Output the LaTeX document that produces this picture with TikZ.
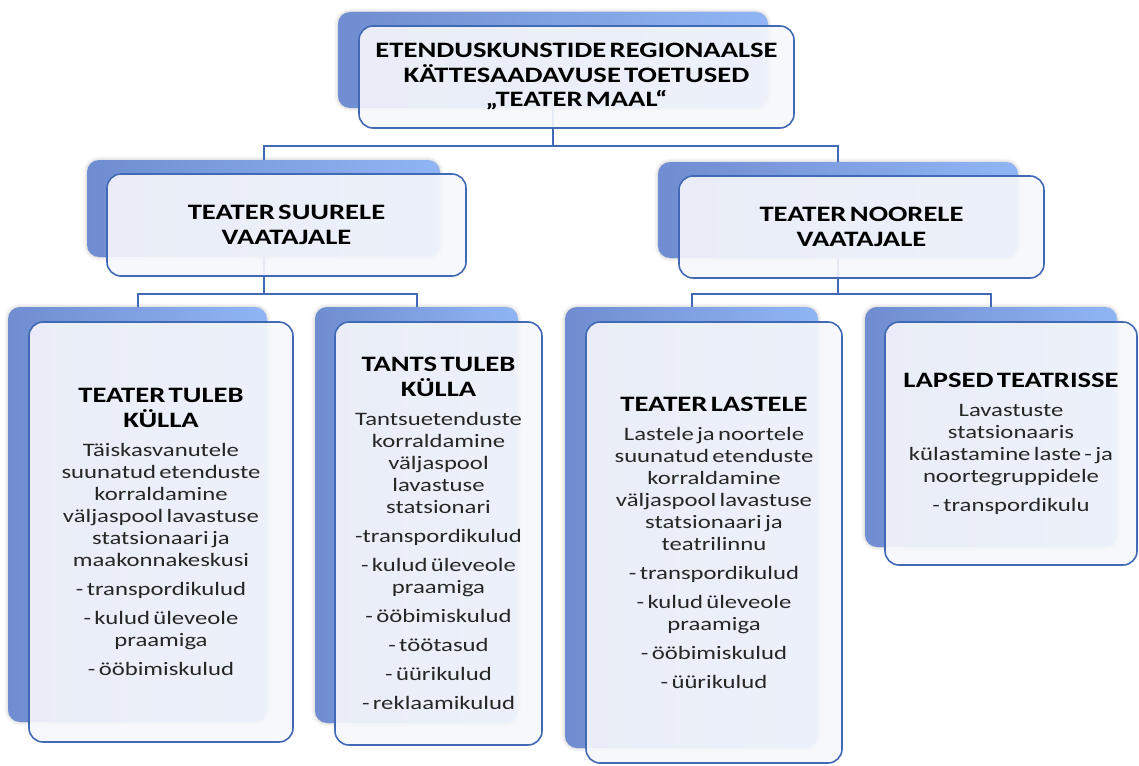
\documentclass[tikz,border=0pt]{standalone}
\usepackage{fontspec}
\usetikzlibrary{fit,shadows.blur}
\newfontfamily\cf{Carlito}[FakeStretch=1.3]
\definecolor{bluedark}{HTML}{6F8DD0}
\definecolor{bluelight}{HTML}{90B5F5}
\definecolor{edge}{HTML}{4169B4}
\definecolor{frontfill}{HTML}{F6F7FB}
\definecolor{txtc}{HTML}{262626}
\newcommand{\hd}[1]{{\fontsize{22}{24.5}\selectfont\bfseries\color{black}#1\par}}
\newcommand{\bd}[1]{{\fontsize{19}{22}\selectfont #1\par}}
\newcommand{\gap}{\vspace{7pt}}
\tikzset{
  backbox/.style={inner sep=0pt, rounded corners=12pt, left color=bluedark, right color=bluelight,
    blur shadow={shadow xshift=0pt, shadow yshift=0pt, shadow blur radius=4pt, shadow opacity=25}},
  frontbox/.style={inner sep=0pt, rounded corners=14pt, draw=edge, line width=1.6pt, fill=frontfill, fill opacity=0.91},
  conn/.style={draw=edge, line width=2pt},
  txt/.style={align=center, text width=320pt, text=txtc, font=\cf, inner sep=0pt}
}
\begin{document}
\begin{tikzpicture}[x=1pt,y=-1pt]
\useasboundingbox (0,0) rectangle (1139,765);
% back boxes
\node[backbox, fit={(338,12) (768,108)}] (topB) {};
\node[backbox, fit={(87,160) (440,257)}] (mlB) {};
\node[backbox, fit={(658,162) (1018,258)}] (mrB) {};
\node[backbox, fit={(8,307) (267,722)}] (b1B) {};
\node[backbox, fit={(315,307) (518,723)}] (b2B) {};
\node[backbox, fit={(565,307) (818,748)}] (b3B) {};
\node[backbox, fit={(865,307) (1117,547)}] (b4B) {};
% connectors
\coordinate (h1) at (0,146);
\coordinate (h2) at (0,294);
\draw[conn] (topB.south) -- (topB.south |- h1) -- (mlB.north |- h1) -- (mlB.north);
\draw[conn] (topB.south |- h1) -- (mrB.north |- h1) -- (mrB.north);
\draw[conn] (mlB.south) -- (mlB.south |- h2) -- (b1B.north |- h2) -- (b1B.north);
\draw[conn] (mlB.south |- h2) -- (b2B.north |- h2) -- (b2B.north);
\draw[conn] (mrB.south) -- (mrB.south |- h2) -- (b3B.north |- h2) -- (b3B.north);
\draw[conn] (mrB.south |- h2) -- (b4B.north |- h2) -- (b4B.north);
% front boxes
\node[frontbox, fit={(359,26) (794,128)}] (topF) {};
\node[frontbox, fit={(107,174) (466,276)}] (mlF) {};
\node[frontbox, fit={(679,176) (1044,278)}] (mrF) {};
\node[frontbox, fit={(29,322) (293,742)}] (b1F) {};
\node[frontbox, fit={(335,322) (542,745)}] (b2F) {};
\node[frontbox, fit={(586,322) (842,763)}] (b3F) {};
\node[frontbox, fit={(885,322) (1137,565)}] (b4F) {};
% texts
\node[txt, text width=430pt] (topT) at (topF.center) {\hd{ETENDUSKUNSTIDE REGIONAALSE\\KÄTTESAADAVUSE TOETUSED\\„TEATER MAAL“}};
\node[txt] (mlT) at (mlF.center) {\hd{TEATER SUURELE\\VAATAJALE}};
\node[txt] (mrT) at (mrF.center) {\hd{TEATER NOORELE\\VAATAJALE}};
\node[txt] (b1T) at (b1F.center) {\hd{TEATER TULEB\\KÜLLA}\gap
\bd{Täiskasvanutele\\suunatud etenduste\\korraldamine\\väljaspool lavastuse\\statsionaari ja\\maakonnakeskusi}\gap
\bd{- transpordikulud}\gap
\bd{- kulud üleveole\\praamiga}\gap
\bd{- ööbimiskulud}};
\node[txt] (b2T) at (b2F.center) {\hd{TANTS TULEB\\KÜLLA}\gap
\bd{Tantsuetenduste\\korraldamine\\väljaspool\\lavastuse\\statsionari}\gap
\bd{-transpordikulud}\gap
\bd{- kulud üleveole\\praamiga}\gap
\bd{- ööbimiskulud}\gap
\bd{- töötasud}\gap
\bd{- üürikulud}\gap
\bd{- reklaamikulud}};
\node[txt] (b3T) at (b3F.center) {\hd{TEATER LASTELE}\gap
\bd{Lastele ja noortele\\suunatud etenduste\\korraldamine\\väljaspool lavastuse\\statsionaari ja\\teatrilinnu}\gap
\bd{- transpordikulud}\gap
\bd{- kulud üleveole\\praamiga}\gap
\bd{- ööbimiskulud}\gap
\bd{- üürikulud}};
\node[txt] (b4T) at (b4F.center) {\hd{LAPSED TEATRISSE}\gap
\bd{Lavastuste\\statsionaaris\\külastamine laste - ja\\noortegruppidele}\gap
\bd{- transpordikulu}};
\end{tikzpicture}
\end{document}
